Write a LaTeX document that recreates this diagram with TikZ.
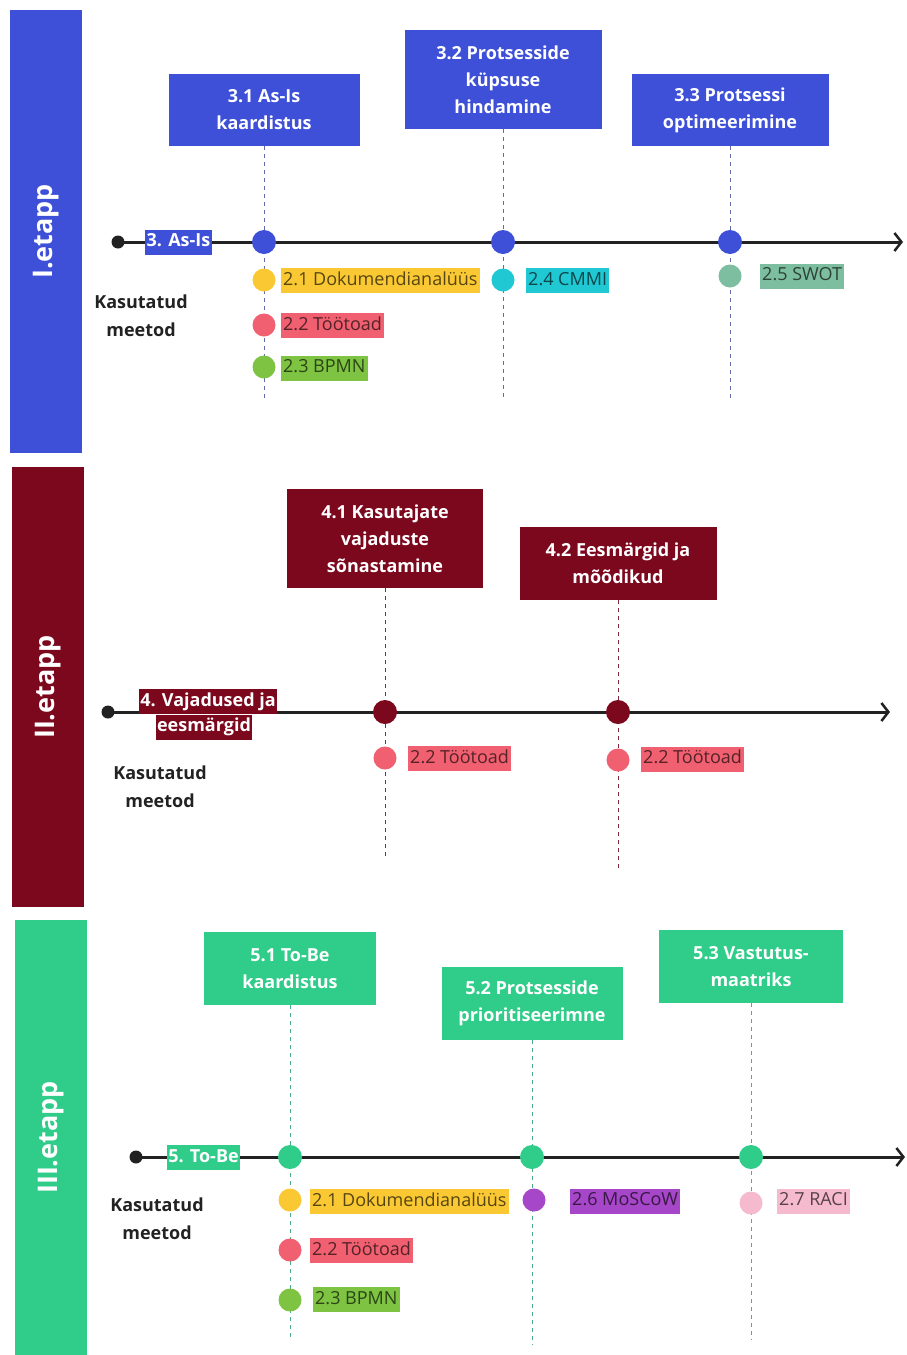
\documentclass[tikz,border=0pt]{standalone}
\usepackage{fontspec}
\setmainfont{Open Sans}
\usetikzlibrary{arrows.meta}

\definecolor{stageI}{RGB}{62,80,216}
\definecolor{stageII}{RGB}{124,8,30}
\definecolor{stageIII}{RGB}{48,204,138}
\definecolor{lineC}{RGB}{34,34,34}
\definecolor{mYellow}{RGB}{250,200,50}
\definecolor{mRed}{RGB}{240,96,112}
\definecolor{mGreen}{RGB}{126,196,66}
\definecolor{mCyan}{RGB}{32,200,212}
\definecolor{mSage}{RGB}{126,190,160}
\definecolor{mPurple}{RGB}{166,70,200}
\definecolor{mPink}{RGB}{246,186,206}

\tikzset{
  stagebar/.style={fill=#1, minimum width=72pt, inner sep=0pt},
  bartext/.style={rotate=90, text=white, font=\bfseries\fontsize{27}{30}\selectfont},
  titlebox/.style={fill=#1, text=white, align=center, inner sep=0pt,
    font=\bfseries\fontsize{18}{27}\selectfont},
  stagetag/.style={fill=#1, text=white, inner xsep=1.5pt, inner ysep=0pt,
    text height=13pt, text depth=4pt, minimum height=25pt,
    font=\bfseries\fontsize{18}{22}\selectfont},
  methodtag/.style={fill=#1, text=#1!35!black, anchor=west, inner xsep=2pt, inner ysep=0pt,
    text height=13pt, text depth=4pt, minimum height=25pt,
    font=\fontsize{18}{22}\selectfont},
  usedtext/.style={align=center, text=lineC, font=\bfseries\fontsize{18}{28}\selectfont},
  timeline/.style={draw=lineC, line width=3pt,
    -{Straight Barb[length=7pt,width=18pt,line width=2.5pt]}},
  startdot/.style={circle, fill=lineC, minimum size=13pt, inner sep=0pt},
  milestone/.style={circle, fill=#1, minimum size=24pt, inner sep=0pt},
  methoddot/.style={circle, fill=#1, minimum size=23pt, inner sep=0pt},
  guide/.style={draw=#1, line width=0.9pt, dash pattern=on 4pt off 4pt},
}

\begin{document}
\begin{tikzpicture}[x=1pt,y=-1pt]
\fill[white] (0,0) rectangle (906,1355);
\useasboundingbox (0,0) rectangle (906,1355);

% ---------------- Stage I ----------------
\node[stagebar=stageI, minimum height=443pt] (bar1) at (46,231.5) {};
\node[bartext] (bar1t) at (bar1.center) {I.etapp};

\node[titlebox=stageI, minimum width=191pt, minimum height=72pt] (t31) at (264,110) {3.1 As-Is\\kaardistus};
\node[titlebox=stageI, minimum width=197pt, minimum height=99pt] (t32) at (503,79.5) {3.2 Protsesside\\küpsuse\\hindamine};
\node[titlebox=stageI, minimum width=197pt, minimum height=72pt] (t33) at (730,110) {3.3 Protsessi\\optimeerimine};

\coordinate (g31) at (264,400);
\coordinate (g32) at (503,398);
\coordinate (g33) at (730,398);
\draw[guide=stageI!45!gray] (t31.south) -- (g31);
\draw[guide=stageI!45!gray] (t32.south) -- (g32);
\draw[guide=stageI!45!gray] (t33.south) -- (g33);

\node[startdot] (s1) at (118,242) {};
\coordinate (e1) at (903,242);
\draw[timeline] (s1.center) -- (e1);
\node[stagetag=stageI] (st1) at (178.5,242) {3. As-Is};

\node[milestone=stageI] (d31) at (264,242) {};
\node[milestone=stageI] (d32) at (503,242) {};
\node[milestone=stageI] (d33) at (730,242) {};

\node[methoddot=mYellow] (m11) at (264,280) {};
\node[methoddot=mRed] (m12) at (264,325) {};
\node[methoddot=mGreen] (m13) at (264,367) {};
\node[methoddot=mCyan] (m14) at (503,280) {};
\node[methoddot=mSage] (m15) at (730,276) {};

\node[methodtag=mYellow] (l11) at (281,280.5) {2.1 Dokumendianalüüs};
\node[methodtag=mRed] (l12) at (281,325.5) {2.2 Töötoad};
\node[methodtag=mGreen] (l13) at (281,368) {2.3 BPMN};
\node[methodtag=mCyan] (l14) at (526,280.5) {2.4 CMMI};
\node[methodtag=mSage] (l15) at (760,276) {2.5 SWOT};

\node[usedtext] (u1) at (141,316) {Kasutatud\\meetod};

% ---------------- Stage II ----------------
\node[stagebar=stageII, minimum height=440pt] (bar2) at (48,687) {};
\node[bartext] (bar2t) at (bar2.center) {II.etapp};

\node[titlebox=stageII, minimum width=196pt, minimum height=99pt] (t41) at (385,538.5) {4.1 Kasutajate\\vajaduste\\sõnastamine};
\node[titlebox=stageII, minimum width=197pt, minimum height=73pt] (t42) at (618,563.5) {4.2 Eesmärgid ja\\mõõdikud};

\coordinate (g41) at (385,858);
\coordinate (g42) at (618,870);
\draw[guide=stageII!70!gray] (t41.south) -- (g41);
\draw[guide=stageII!70!gray] (t42.south) -- (g42);

\node[startdot] (s2) at (108,712) {};
\coordinate (e2) at (890,712);
\draw[timeline] (s2.center) -- (e2);
\node[stagetag=stageII] (st2a) at (208,701.5) {4. Vajadused ja};
\node[stagetag=stageII] (st2b) at (204,727) {eesmärgid};

\node[milestone=stageII] (d41) at (385,712) {};
\node[milestone=stageII] (d42) at (618,712) {};

\node[methoddot=mRed] (m21) at (385,758) {};
\node[methoddot=mRed] (m22) at (618,760) {};
\node[methodtag=mRed] (l21) at (408,758.5) {2.2 Töötoad};
\node[methodtag=mRed] (l22) at (641,759) {2.2 Töötoad};

\node[usedtext] (u2) at (160,786.5) {Kasutatud\\meetod};

% ---------------- Stage III ----------------
\node[stagebar=stageIII, minimum height=435pt] (bar3) at (51,1137.5) {};
\node[bartext] (bar3t) at (bar3.center) {III.etapp};

\node[titlebox=stageIII, minimum width=172pt, minimum height=73pt] (t51) at (290,968.5) {5.1 To-Be\\kaardistus};
\node[titlebox=stageIII, minimum width=181pt, minimum height=73pt] (t52) at (532,1003.5) {5.2 Protsesside\\prioritiseerimne};
\node[titlebox=stageIII, minimum width=184pt, minimum height=73pt] (t53) at (751,966.5) {5.3 Vastutus-\\maatriks};

\coordinate (g51) at (290,1340);
\coordinate (g52) at (532,1345);
\coordinate (g53) at (751,1340);
\draw[guide=stageIII!60!gray] (t51.south) -- (g51);
\draw[guide=stageIII!60!gray] (t52.south) -- (g52);
\draw[guide=stageIII!60!gray] (t53.south) -- (g53);

\node[startdot] (s3) at (136,1157) {};
\coordinate (e3) at (905,1157);
\draw[timeline] (s3.center) -- (e3);
\node[stagetag=stageIII] (st3) at (203.5,1157.5) {5. To-Be};

\node[milestone=stageIII] (d51) at (290,1157) {};
\node[milestone=stageIII] (d52) at (532,1157) {};
\node[milestone=stageIII] (d53) at (751,1157) {};

\node[methoddot=mYellow] (m31) at (290,1200) {};
\node[methoddot=mRed] (m32) at (290,1250) {};
\node[methoddot=mGreen] (m33) at (290,1300) {};
\node[methoddot=mPurple] (m34) at (534,1200) {};
\node[methoddot=mPink] (m35) at (751,1203) {};

\node[methodtag=mYellow] (l31) at (310,1201.5) {2.1 Dokumendianalüüs};
\node[methodtag=mRed] (l32) at (310,1250.5) {2.2 Töötoad};
\node[methodtag=mGreen] (l33) at (313,1299.5) {2.3 BPMN};
\node[methodtag=mPurple] (l34) at (570,1201) {2.6 MoSCoW};
\node[methodtag=mPink] (l35) at (777,1201) {2.7 RACI};

\node[usedtext] (u3) at (157,1219) {Kasutatud\\meetod};
\end{tikzpicture}
\end{document}
